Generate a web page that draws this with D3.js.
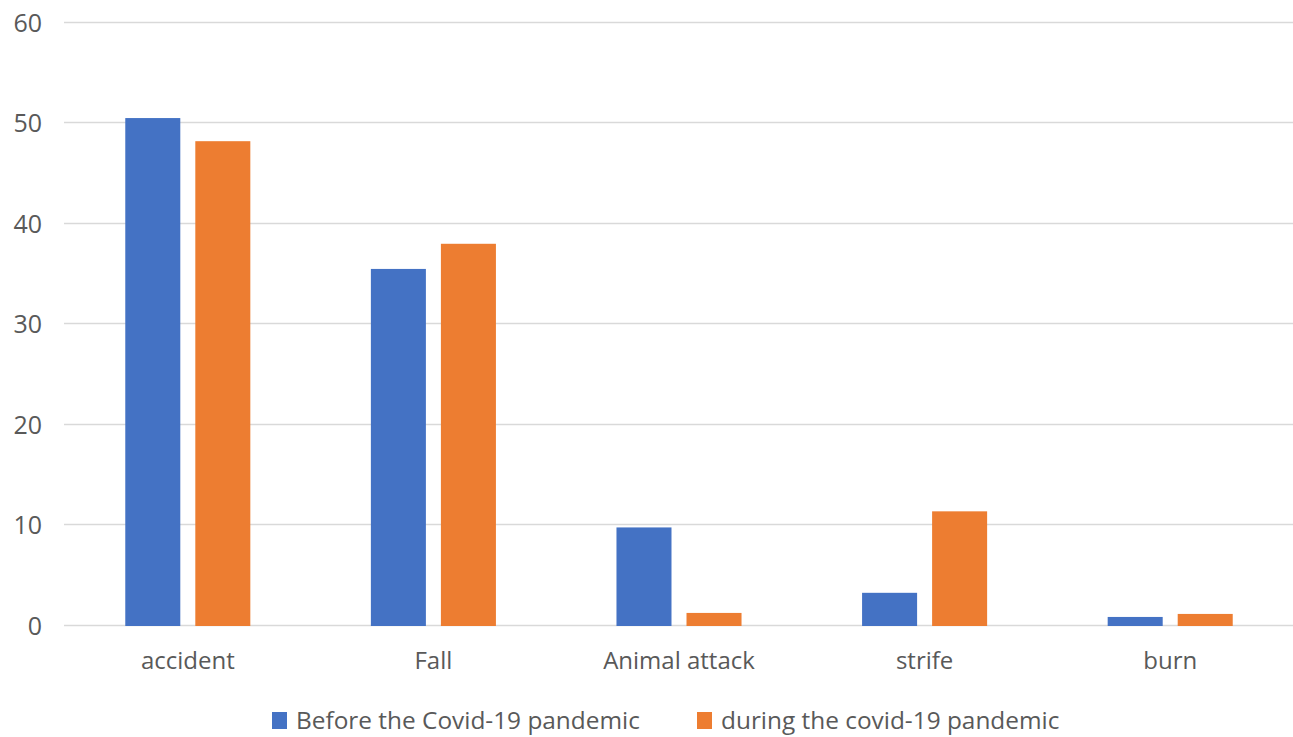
<!DOCTYPE html>
<html>
<head>
<meta charset="utf-8">
<script src="https://cdn.jsdelivr.net/npm/d3@7"></script>
<style>
  html, body { margin: 0; padding: 0; background: #fff; }
  svg { display: block; }
  text { font-family: "Open Sans", "Noto Sans", sans-serif; fill: #595959; }
</style>
</head>
<body>
<svg id="chart" width="1293" height="737"></svg>
<script>
// Injury causes, before vs. during the Covid-19 pandemic (%)
const categories = ["accident", "Fall", "Animal attack", "strife", "burn"];
const seriesNames = ["Before the Covid-19 pandemic", "during the covid-19 pandemic"];
const beforeValues = [50.5, 35.5, 9.8, 3.3, 0.9];
const duringValues = [48.2, 38.0, 1.3, 11.4, 1.2];
const yTicks = [0, 10, 20, 30, 40, 50, 60];
const colors = ["#4472C4", "#ED7D31"];

const seriesValues = [beforeValues, duringValues];
const rows = categories.map((c, i) => ({
  category: c,
  values: seriesNames.map((s, j) => ({ series: s, value: seriesValues[j][i], idx: j }))
}));

const svg = d3.select("#chart");
const plotLeft = 65, plotRight = 1293, plotTop = 22.5, plotBottom = 626;

const x0 = d3.scaleBand().domain(categories).range([plotLeft, plotRight]).padding(0);
const x1 = d3.scaleBand().domain(seriesNames).range([0, x0.bandwidth()])
  .paddingInner(0.2143).paddingOuter(0.8607);
const y = d3.scaleLinear().domain([0, 60]).range([plotBottom, plotTop]);

// horizontal gridlines
svg.append("g").selectAll("line").data(yTicks).join("line")
  .attr("x1", plotLeft - 1).attr("x2", plotRight)
  .attr("y1", d => Math.round(y(d)) - 0.5).attr("y2", d => Math.round(y(d)) - 0.5)
  .attr("stroke", "#d9d9d9").attr("stroke-width", 1.5);

// y-axis tick labels
const yAxis = d3.axisLeft(y).tickValues(yTicks).tickSize(0).tickPadding(0);
const gy = svg.append("g").attr("transform", `translate(42,0)`).call(yAxis);
gy.select(".domain").remove();
gy.selectAll("text").attr("font-size", 25).attr("fill", "#595959").attr("dy", "0.34em")
  .style("font-family", "'Open Sans', sans-serif");

// bars
const groups = svg.append("g").selectAll("g").data(rows).join("g")
  .attr("transform", d => `translate(${x0(d.category)},0)`);
groups.selectAll("rect").data(d => d.values).join("rect")
  .attr("x", d => x1(d.series))
  .attr("width", x1.bandwidth())
  .attr("y", d => y(d.value))
  .attr("height", d => y(0) - y(d.value))
  .attr("fill", d => colors[d.idx]);

// category labels
const xAxis = d3.axisBottom(x0).tickSize(0).tickPadding(0);
const gx = svg.append("g").attr("transform", `translate(0,${plotBottom + 43})`).call(xAxis);
gx.select(".domain").remove();
gx.selectAll("text").attr("font-size", 24).attr("fill", "#595959").attr("dy", 0)
  .style("font-family", "'Open Sans', sans-serif");

// legend
const legendX = [272, 697];
const legend = svg.append("g").selectAll("g").data(seriesNames).join("g")
  .attr("transform", (d, i) => `translate(${legendX[i]},712)`);
legend.append("rect").attr("width", 15).attr("height", 17)
  .attr("fill", (d, i) => colors[i]);
legend.append("text").attr("x", 24).attr("y", 17)
  .attr("font-size", 24.4).text(d => d);
</script>
</body>
</html>
